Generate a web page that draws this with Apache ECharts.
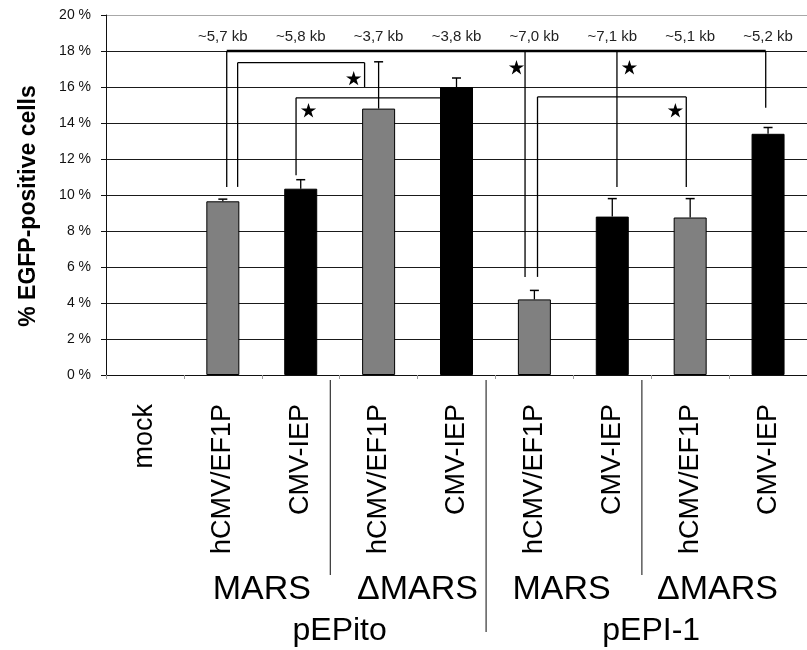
<!DOCTYPE html>
<html>
<head>
<meta charset="utf-8">
<script src="https://cdn.jsdelivr.net/npm/echarts@6/dist/echarts.min.js"></script>
<style>
html,body{margin:0;padding:0;background:#fff;}
#chart{width:807px;height:650px;}
</style>
</head>
<body>
<div id="chart"></div>
<script>
// ---- data ----
const categories = ['mock','hCMV/EF1P','CMV-IEP','hCMV/EF1P','CMV-IEP','hCMV/EF1P','CMV-IEP','hCMV/EF1P','CMV-IEP'];
const promoterType = ['none','hCMV','CMV','hCMV','CMV','hCMV','CMV','hCMV','CMV'];
const values = [0, 9.65, 10.35, 14.8, 16.0, 4.2, 8.8, 8.75, 13.4];
const errors = [0, 0.12, 0.5, 2.6, 0.5, 0.5, 1.0, 1.05, 0.35];
const sizeLabels = ['', '~5,7 kb', '~5,8 kb', '~3,7 kb', '~3,8 kb', '~7,0 kb', '~7,1 kb', '~5,1 kb', '~5,2 kb'];
const yMin = 0, yMax = 20, yStep = 2;
const subGroups = ['MARS', '\u0394MARS', 'MARS', '\u0394MARS'];
const subGroupCats = [[1,2],[3,4],[5,6],[7,8]];
const vectors = ['pEPito', 'pEPI-1'];
const vectorCats = [[1,4],[5,8]];
// significance brackets: horizontal level and the (category, bottom value) of each drop
const bracketLevels = [18, 17.35, 15.4, 15.45];
const bracketEnds = [
  [[1,10.45],[5,5.45],[6,10.45],[8,14.85]],
  [[1,10.45],[3,16.0]],
  [[2,11.1],[4,15.4]],
  [[5,5.45],[7,10.45]]
];
const stars = [[3,16.45],[2,14.67],[5,17.06],[6,17.06],[7,14.67]];

// ---- layout (fractions of a category band) ----
const bracketOffsets = [[0.05,-0.12,0.06,-0.03],[0.19,-0.18],[-0.06,-0.2],[0.04,-0.05]];
const bracketWidths = [2.5, 1.3, 1.3, 1.3];
const starOffsets = [-0.32, 0.10, -0.23, 0.22, -0.19];
const subGroupShift = [0, 0, -0.15, -0.15];
const separatorAfter = [2, 4, 6];
const separatorLong = [false, true, false];

const chart = echarts.init(document.getElementById('chart'));

const FONT = 'Arial, "Liberation Sans", sans-serif';
const splitColors = [];
for (let v = yMin; v <= yMax; v += yStep) splitColors.push(v === yMax ? '#a8a8a8' : '#1a1a1a');

function starPoints(cx, cy, R, r) {
  const pts = [];
  for (let i = 0; i < 10; i++) {
    const rad = i % 2 === 0 ? R : r;
    const a = -Math.PI / 2 + i * Math.PI / 5;
    pts.push([cx + rad * Math.cos(a), cy + rad * Math.sin(a)]);
  }
  return pts;
}

const option = {
  animation: false,
  backgroundColor: '#fff',
  grid: { left: 106, top: 15, width: 702, height: 360, containLabel: false },
  xAxis: [
    {
      type: 'category',
      data: categories,
      axisLine: { show: true, lineStyle: { color: '#111', width: 1 } },
      axisTick: { show: true, length: 4, lineStyle: { color: '#999' } },
      axisLabel: { rotate: 90, fontSize: 27, fontFamily: FONT, color: '#000', margin: 29, interval: 0 },
      splitLine: { show: false }
    },
    {
      type: 'category',
      data: sizeLabels,
      position: 'top',
      axisLine: { show: false },
      axisTick: { show: false },
      axisLabel: { inside: true, fontSize: 15, fontFamily: FONT, color: '#222', margin: 14, interval: 0 },
      splitLine: { show: false }
    }
  ],
  yAxis: {
    type: 'value',
    min: yMin, max: yMax, interval: yStep,
    axisLine: { show: true, lineStyle: { color: '#111', width: 1 } },
    axisTick: { show: true, length: 5, lineStyle: { color: '#111' } },
    axisLabel: { formatter: v => v + ' %', fontSize: 14, fontFamily: '"Liberation Sans Narrow", "Arial Narrow", Arial, sans-serif', color: '#111', margin: 15 },
    splitLine: { show: true, lineStyle: { color: splitColors, width: 1.2 } }
  },
  graphic: [
    {
      type: 'text', x: 29, y: 206, rotation: Math.PI / 2,
      style: { text: '% EGFP-positive cells', font: 'bold 23px ' + FONT, fill: '#000', align: 'center', verticalAlign: 'middle' }
    }
  ],
  series: [
    {
      type: 'bar',
      data: values.map((v, i) => ({
        value: v,
        itemStyle: {
          color: promoterType[i] === 'CMV' ? '#000' : '#808080',
          borderColor: '#000', borderWidth: v > 0 ? 1 : 0
        }
      })),
      barWidth: 33,
      z: 2
    },
    {
      type: 'custom',
      z: 3,
      data: values.map((v, i) => [i, v + errors[i]]),
      renderItem: function (params, api) {
        const i = params.dataIndex;
        if (!errors[i]) return null;
        const p0 = api.coord([i, values[i]]);
        const p1 = api.coord([i, values[i] + errors[i]]);
        const hw = 4.5;
        return {
          type: 'group',
          children: [
            { type: 'line', shape: { x1: p0[0], y1: p0[1], x2: p1[0], y2: p1[1] }, style: { stroke: '#000', lineWidth: 1.3 } },
            { type: 'line', shape: { x1: p1[0] - hw, y1: p1[1], x2: p1[0] + hw, y2: p1[1] }, style: { stroke: '#000', lineWidth: 1.5 } }
          ]
        };
      }
    },
    {
      type: 'custom',
      z: 4,
      data: bracketLevels.map((lv, i) => [bracketEnds[i][0][0], lv]),
      renderItem: function (params, api) {
        const b = params.dataIndex;
        const band = api.size([1, 0])[0];
        const ends = bracketEnds[b];
        const offs = bracketOffsets[b];
        const yl = api.coord([0, bracketLevels[b]])[1];
        const xs = ends.map((e, k) => api.coord([e[0], 0])[0] + offs[k] * band);
        const children = [];
        children.push({ type: 'line', shape: { x1: xs[0], y1: yl, x2: xs[xs.length - 1], y2: yl }, style: { stroke: '#000', lineWidth: bracketWidths[b] } });
        ends.forEach((e, k) => {
          const yb = api.coord([0, e[1]])[1];
          if (Math.abs(yb - yl) > 1) {
            children.push({ type: 'line', shape: { x1: xs[k], y1: yl, x2: xs[k], y2: yb }, style: { stroke: '#000', lineWidth: 1.3 } });
          }
        });
        return { type: 'group', children: children };
      }
    },
    {
      type: 'custom',
      z: 5,
      data: stars,
      renderItem: function (params, api) {
        const i = params.dataIndex;
        const band = api.size([1, 0])[0];
        const p = api.coord([stars[i][0], stars[i][1]]);
        const cx = p[0] + starOffsets[i] * band;
        return { type: 'polygon', shape: { points: starPoints(cx, p[1], 8, 3.0) }, style: { fill: '#000' } };
      }
    },
    {
      type: 'custom',
      z: 5,
      data: subGroups.map((s, i) => [subGroupCats[i][0], 0]),
      renderItem: function (params, api) {
        const i = params.dataIndex;
        const band = api.size([1, 0])[0];
        const a = api.coord([subGroupCats[i][0], 0]);
        const b = api.coord([subGroupCats[i][1], 0]);
        const cx = (a[0] + b[0]) / 2 + subGroupShift[i] * band;
        return { type: 'text', style: { text: subGroups[i], x: cx, y: a[1] + 215, font: '34px ' + FONT, fill: '#000', align: 'center', verticalAlign: 'middle' } };
      }
    },
    {
      type: 'custom',
      z: 5,
      data: vectors.map((s, i) => [vectorCats[i][0], 0]),
      renderItem: function (params, api) {
        const i = params.dataIndex;
        const a = api.coord([vectorCats[i][0], 0]);
        const b = api.coord([vectorCats[i][1], 0]);
        const cx = (a[0] + b[0]) / 2;
        return { type: 'text', style: { text: vectors[i], x: cx, y: a[1] + 256, font: '32px ' + FONT, fill: '#000', align: 'center', verticalAlign: 'middle' } };
      }
    },
    {
      type: 'custom',
      z: 5,
      data: separatorAfter.map(c => [c, 0]),
      renderItem: function (params, api) {
        const i = params.dataIndex;
        const band = api.size([1, 0])[0];
        const p = api.coord([separatorAfter[i], 0]);
        const x = p[0] + (0.5 - 0.12) * band;
        const y2 = p[1] + (separatorLong[i] ? 257 : 200);
        return { type: 'line', shape: { x1: x, y1: p[1] + 5, x2: x, y2: y2 }, style: { stroke: '#333', lineWidth: 1.2 } };
      }
    }
  ]
};
chart.setOption(option);
</script>
</body>
</html>
